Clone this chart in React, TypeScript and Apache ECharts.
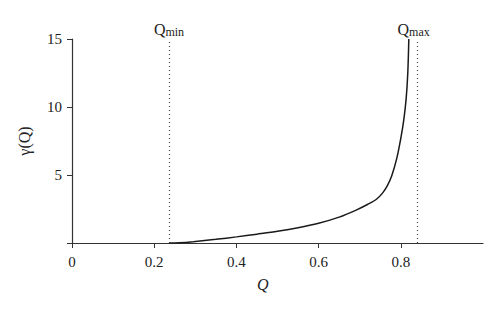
import React, { useEffect, useRef } from "react";
import * as echarts from "echarts";

const qValues = [0.236, 0.26, 0.295, 0.35, 0.4, 0.45, 0.5, 0.55, 0.6, 0.65, 0.69, 0.72, 0.74, 0.755, 0.767, 0.778, 0.79, 0.8, 0.807, 0.813, 0.817, 0.8195];
const gammaValues = [0, 0.02, 0.1, 0.27, 0.45, 0.65, 0.86, 1.12, 1.45, 1.9, 2.4, 2.85, 3.2, 3.65, 4.2, 4.95, 6.2, 7.7, 9.0, 10.6, 12.5, 15];
const xTicks = [0, 0.2, 0.4, 0.6, 0.8];
const yTicks = [0, 5, 10, 15];
const qMin = 0.236;
const qMax = 0.841;

const FONT = "Liberation Serif";
const INK = "#222";

export default function App() {
  const ref = useRef<HTMLDivElement>(null);
  useEffect(() => {
    if (!ref.current) return;
    const chart = echarts.init(ref.current, undefined, { renderer: "svg" });
    const markLabel = (sub: string, dx: number) => ({
      show: true,
      position: "end" as const,
      distance: 4,
      offset: [dx, 0],
      formatter: `{q|Q}{s|${sub}}`,
      rich: {
        q: { fontFamily: FONT, fontSize: 16, color: INK, verticalAlign: "bottom" as const, lineHeight: 18 },
        s: { fontFamily: FONT, fontSize: 12, color: INK, verticalAlign: "bottom" as const, lineHeight: 14, padding: [0, 0, -1, 0] },
      },
    });
    chart.setOption({
      animation: false,
      backgroundColor: "#fff",
      textStyle: { fontFamily: FONT },
      grid: { left: 72, right: 17, top: 39, bottom: 68 },
      xAxis: {
        type: "value",
        min: 0,
        max: 1,
        interval: 0.2,
        splitLine: { show: false },
        axisLine: { show: true, lineStyle: { color: "#333", width: 1.2 } },
        axisTick: { show: true, length: 5, customValues: xTicks, lineStyle: { color: "#333" } },
        axisLabel: {
          customValues: xTicks,
          margin: 11,
          fontFamily: FONT,
          fontSize: 15,
          color: INK,
          formatter: (v: number) => (v === 0 ? "0" : String(v)),
        },
      },
      yAxis: {
        type: "value",
        min: 0,
        max: 15,
        interval: 5,
        splitLine: { show: false },
        axisLine: { show: true, onZero: false, lineStyle: { color: "#333", width: 1.2 } },
        axisTick: { show: true, length: 5, customValues: yTicks, lineStyle: { color: "#333" } },
        axisLabel: {
          margin: 10,
          fontFamily: FONT,
          fontSize: 15,
          color: INK,
          formatter: (v: number) => (v === 0 ? "" : String(v)),
        },
        name: "γ(Q)",
        nameLocation: "middle",
        nameGap: 40,
        nameTextStyle: { fontFamily: FONT, fontSize: 16, color: INK },
      },
      series: [
        {
          type: "line",
          data: qValues.map((q, i) => [q, gammaValues[i]]),
          smooth: 0.3,
          showSymbol: false,
          lineStyle: { color: "#1a1a1a", width: 1.5 },
          markLine: {
            silent: true,
            symbol: ["none", "none"],
            lineStyle: { color: "#444", type: [1, 3], width: 1.2 },
            data: [
              [
                { coord: [qMin, 0], label: markLabel("min", 0) },
                { coord: [qMin, 14.85] },
              ],
              [
                { coord: [qMax, 0], label: markLabel("max", -4) },
                { coord: [qMax, 14.85] },
              ],
            ],
          },
        },
      ],
      graphic: [
        {
          type: "text",
          left: 257,
          top: 276,
          style: { text: "Q", fontFamily: FONT, fontStyle: "italic", fontSize: 16, fill: INK },
        },
      ],
    });
    return () => chart.dispose();
  }, []);
  return <div ref={ref} style={{ width: 500, height: 311, position: "absolute", left: 0, top: 0 }} />;
}
